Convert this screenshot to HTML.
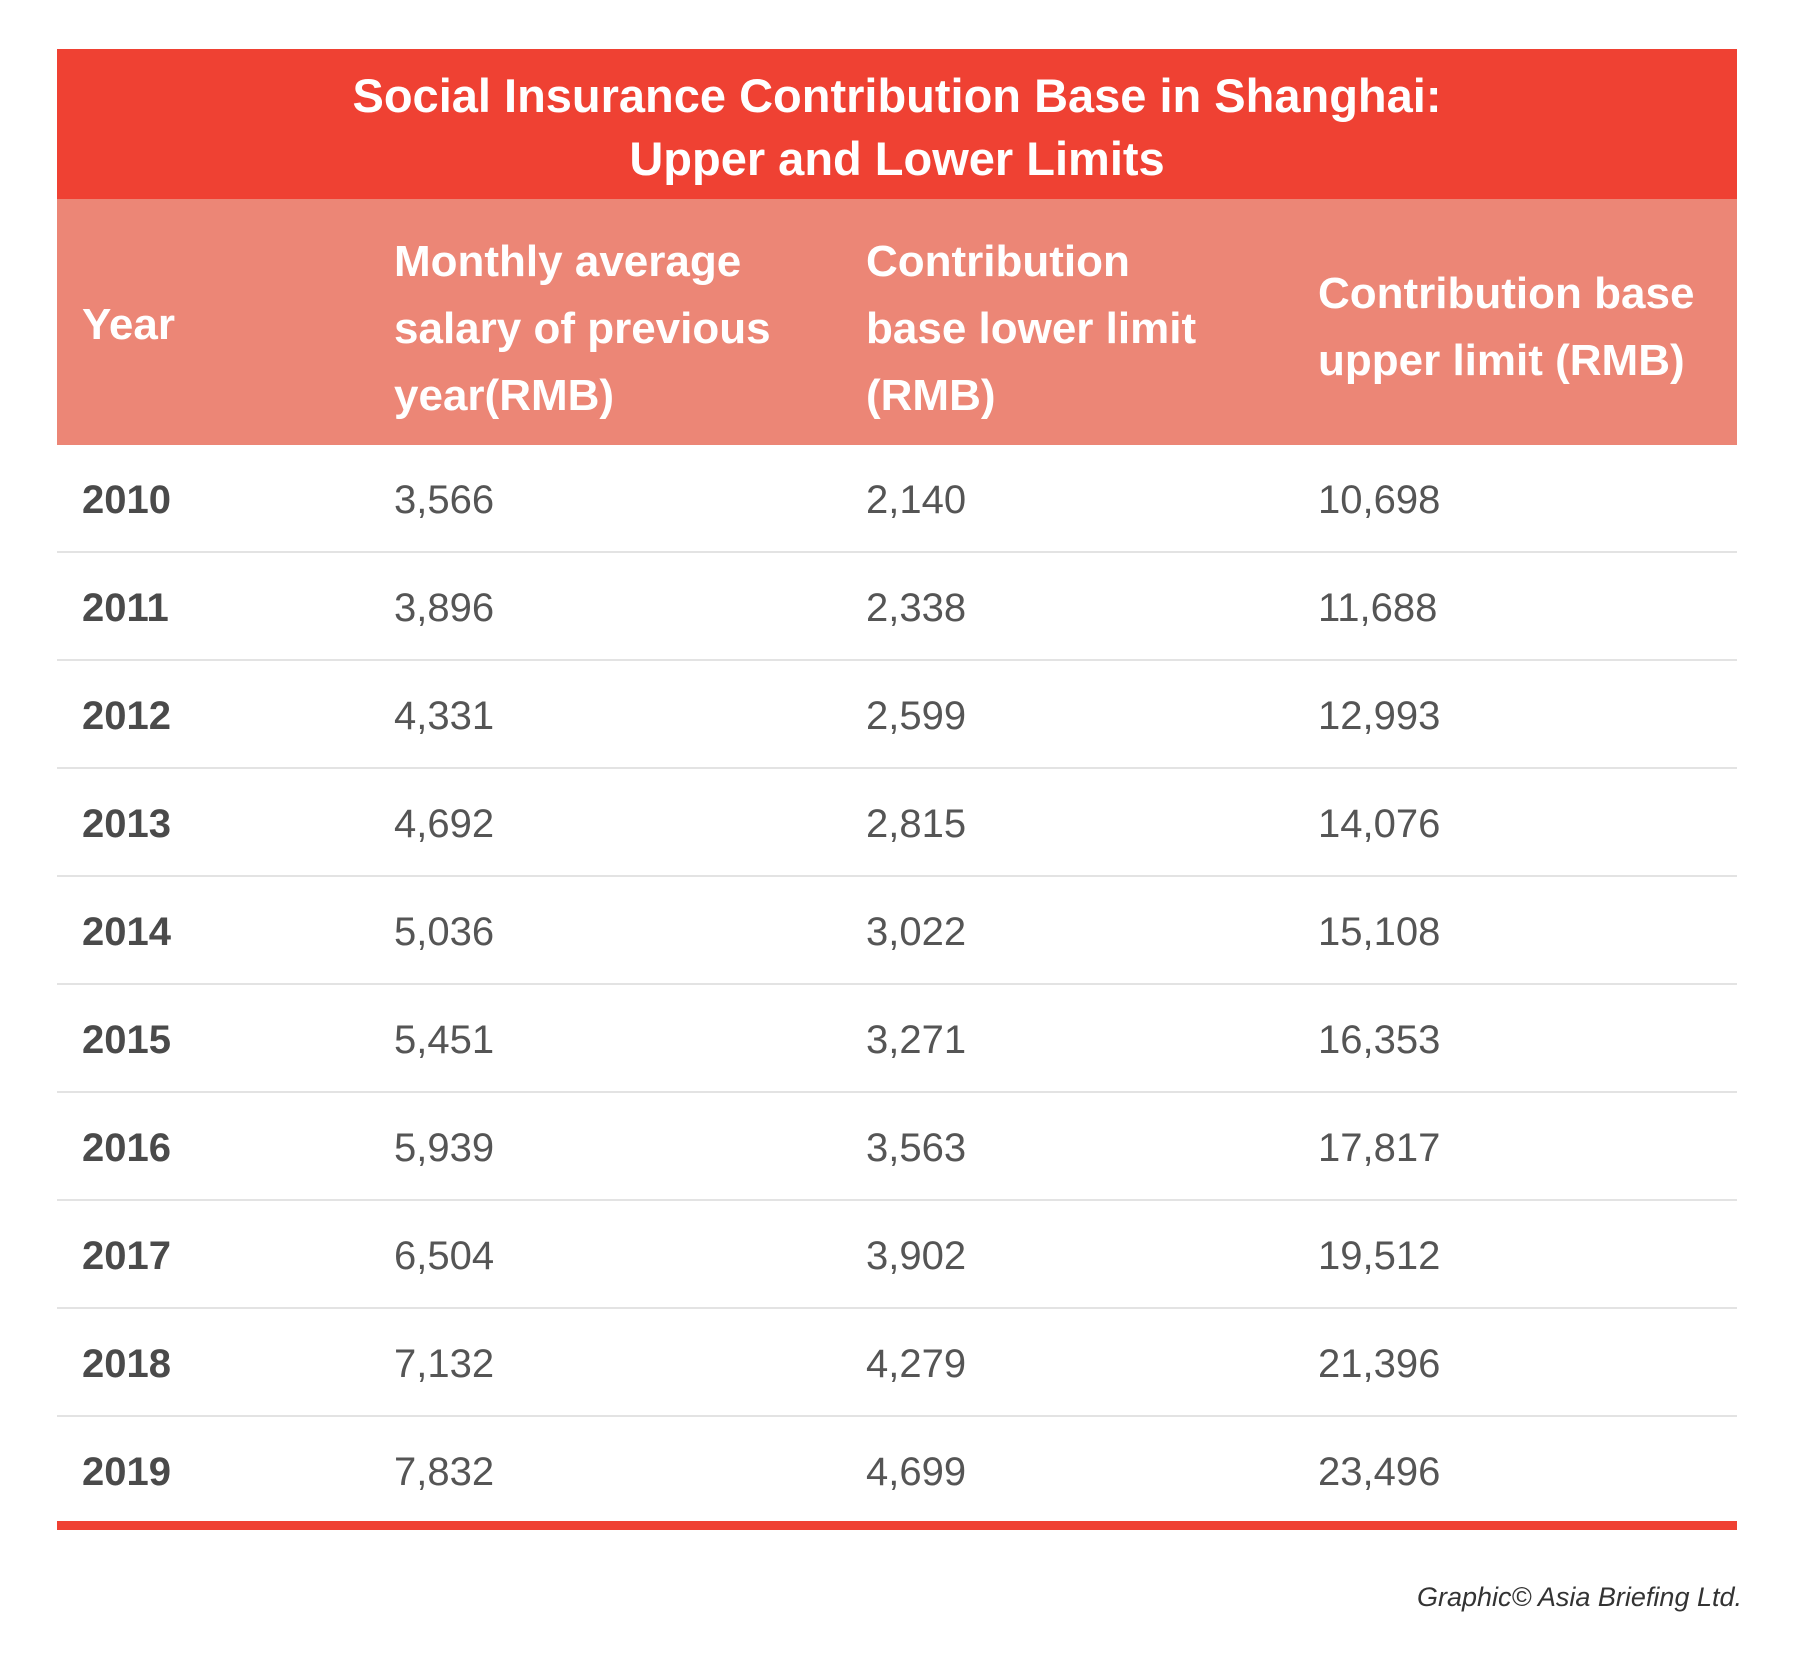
<!DOCTYPE html>
<html><head><meta charset="utf-8"><style>
body{margin:0;width:1800px;height:1676px;background:#fff;font-family:"Liberation Sans",sans-serif;position:relative;overflow:hidden}
.t{position:absolute;left:57px;width:1680px;top:49px;height:150px;background:#ef4133;color:#fff;font-weight:bold;font-size:47px;text-align:center;line-height:63px;box-sizing:border-box;padding-top:15px}
.h{position:absolute;left:57px;width:1680px;top:199px;height:246px;background:#ec8676;color:#fff;font-weight:bold;font-size:44px;line-height:67px}
.h div{position:absolute}
.r{position:absolute;left:57px;width:1680px;height:108px;border-bottom:2px solid #e3e3e3;box-sizing:border-box;font-size:40px;color:#555;line-height:110px}
.r span{position:absolute}
.r span:first-child{font-weight:bold;color:#4a4a4a}
.bar{position:absolute;left:57px;width:1680px;top:1521px;height:9px;background:#ef4133}
.c{position:absolute;right:58px;top:1582px;font-style:italic;font-size:27px;color:#333}
</style></head><body>
<div class="t">Social Insurance Contribution Base in Shanghai:<br>Upper and Lower Limits</div>
<div class="h">
<div style="left:25px;top:92px">Year</div>
<div style="left:337px;top:29px">Monthly average<br>salary of previous<br>year(RMB)</div>
<div style="left:809px;top:29px">Contribution<br>base lower limit<br>(RMB)</div>
<div style="left:1261px;top:61px">Contribution base<br>upper limit (RMB)</div>
</div>
<div class="r" style="top:445px"><span style="left:25px">2010</span><span style="left:337px">3,566</span><span style="left:809px">2,140</span><span style="left:1261px">10,698</span></div>
<div class="r" style="top:553px"><span style="left:25px">2011</span><span style="left:337px">3,896</span><span style="left:809px">2,338</span><span style="left:1261px">11,688</span></div>
<div class="r" style="top:661px"><span style="left:25px">2012</span><span style="left:337px">4,331</span><span style="left:809px">2,599</span><span style="left:1261px">12,993</span></div>
<div class="r" style="top:769px"><span style="left:25px">2013</span><span style="left:337px">4,692</span><span style="left:809px">2,815</span><span style="left:1261px">14,076</span></div>
<div class="r" style="top:877px"><span style="left:25px">2014</span><span style="left:337px">5,036</span><span style="left:809px">3,022</span><span style="left:1261px">15,108</span></div>
<div class="r" style="top:985px"><span style="left:25px">2015</span><span style="left:337px">5,451</span><span style="left:809px">3,271</span><span style="left:1261px">16,353</span></div>
<div class="r" style="top:1093px"><span style="left:25px">2016</span><span style="left:337px">5,939</span><span style="left:809px">3,563</span><span style="left:1261px">17,817</span></div>
<div class="r" style="top:1201px"><span style="left:25px">2017</span><span style="left:337px">6,504</span><span style="left:809px">3,902</span><span style="left:1261px">19,512</span></div>
<div class="r" style="top:1309px"><span style="left:25px">2018</span><span style="left:337px">7,132</span><span style="left:809px">4,279</span><span style="left:1261px">21,396</span></div>
<div class="r" style="top:1417px;border:none"><span style="left:25px">2019</span><span style="left:337px">7,832</span><span style="left:809px">4,699</span><span style="left:1261px">23,496</span></div>
<div class="bar"></div>
<div class="c">Graphic© Asia Briefing Ltd.</div>
</body></html>
